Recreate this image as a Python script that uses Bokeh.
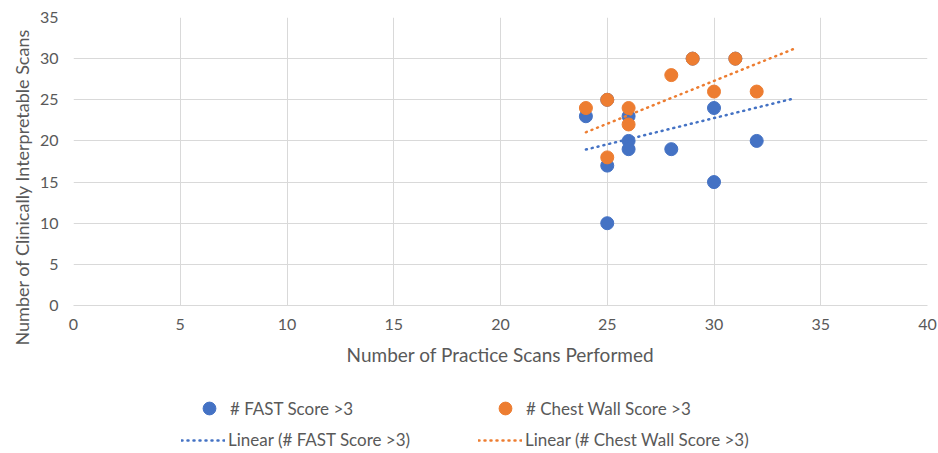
from bokeh.plotting import figure
from bokeh.layouts import column
from bokeh.models import Range1d, FixedTicker, Legend, LegendItem, Title
from bokeh.embed import file_html
from bokeh.resources import INLINE

# Data
fast_x = [24, 25, 25, 25, 26, 26, 26, 28, 29, 30, 30, 31, 32]
fast_y = [23, 17, 10, 25, 23, 20, 19, 19, 30, 24, 15, 30, 20]
chest_x = [24, 25, 25, 26, 26, 28, 29, 30, 31, 32]
chest_y = [24, 25, 18, 24, 22, 28, 30, 26, 30, 26]
trend_x = [24, 33.8]
fast_trend = [18.95, 25.2]
chest_trend = [21.05, 31.25]
ticks = [0, 5, 10, 15, 20, 25, 30, 35, 40]
yticks = [0, 5, 10, 15, 20, 25, 30, 35]
series_labels = ["# FAST Score >3", "# Chest Wall Score >3"]
trend_labels = ["Linear (# FAST Score >3)", "Linear (# Chest Wall Score >3)"]

BLUE = "#4472C4"
ORANGE = "#ED7D31"
TXT = "#595959"
GRID = "#D9D9D9"
FONT = "Lato"

p = figure(width=938, height=392, x_range=Range1d(0, 40), y_range=Range1d(0, 35),
           output_backend="svg", toolbar_location=None,
           min_border_left=73, min_border_right=11, min_border_top=17, min_border_bottom=87)
p.outline_line_color = None

p.xaxis.ticker = FixedTicker(ticks=ticks)
p.yaxis.ticker = FixedTicker(ticks=yticks)
for ax in (p.xaxis, p.yaxis):
    ax.major_tick_line_color = None
    ax.minor_tick_line_color = None
    ax.major_tick_out = 0
    ax.major_tick_in = 0
    ax.minor_tick_out = 0
    ax.major_label_text_font = FONT
    ax.major_label_text_font_size = "16px"
    ax.major_label_text_color = TXT
    ax.axis_label_text_font = FONT
    ax.axis_label_text_font_size = "19px"
    ax.axis_label_text_color = TXT
    ax.axis_label_text_font_style = "normal"
p.xaxis.axis_line_color = GRID
p.yaxis.axis_line_color = None
p.xaxis.axis_label = "Number of Practice Scans Performed"
p.xaxis.major_label_standoff = 13
p.yaxis.major_label_standoff = 15
p.xaxis.axis_label_standoff = 10
p.xgrid.grid_line_color = GRID
p.ygrid.grid_line_color = GRID

# y-axis title, placed lower than centre as in the reference
ytitle = Title(text="Number of Clinically Interpretable Scans", align="left", offset=-40,
               text_font=FONT, text_font_size="18px", text_color=TXT,
               text_font_style="normal", standoff=8)
p.add_layout(ytitle, "left")

p.scatter(fast_x, fast_y, size=13, color=BLUE, line_color=BLUE)
p.scatter(chest_x, chest_y, size=13, color=ORANGE, line_color=ORANGE)
p.line(trend_x, fast_trend, line_color=BLUE, line_width=2.5, line_dash="1 5", line_cap="round")
p.line(trend_x, chest_trend, line_color=ORANGE, line_width=2.5, line_dash="1 5", line_cap="round")

# Legend strip below the chart (its series sit outside the strip's visible range)
lg = figure(width=938, height=61, x_range=Range1d(-100, -99), y_range=Range1d(-100, -99),
            output_backend="svg", toolbar_location=None, x_axis_type=None, y_axis_type=None,
            min_border_left=0, min_border_right=0, min_border_top=0, min_border_bottom=0)
lg.outline_line_color = None
lg.xgrid.visible = False
lg.ygrid.visible = False
d_fast = lg.scatter(fast_x, fast_y, size=13, color=BLUE, line_color=BLUE)
d_chest = lg.scatter(chest_x, chest_y, size=13, color=ORANGE, line_color=ORANGE)
d_fast_t = lg.line(trend_x, fast_trend, line_color=BLUE, line_width=2.5, line_dash="1 5", line_cap="round")
d_chest_t = lg.line(trend_x, chest_trend, line_color=ORANGE, line_width=2.5, line_dash="1 5", line_cap="round")

common = dict(orientation="horizontal", spacing=0, padding=0, margin=0,
              border_line_color=None, background_fill_alpha=0, label_text_font=FONT,
              label_text_font_size="17px", label_text_color=TXT)
leg1 = Legend(items=[LegendItem(label=series_labels[0], renderers=[d_fast]),
                     LegendItem(label=series_labels[1], renderers=[d_chest])],
              location=(120, 29), glyph_width=32, glyph_height=32, label_height=32,
              label_standoff=5, label_width=259, **common)
leg2 = Legend(items=[LegendItem(label=trend_labels[0], renderers=[d_fast_t]),
                     LegendItem(label=trend_labels[1], renderers=[d_chest_t])],
              location=(108, 3), glyph_width=44, glyph_height=20, label_height=20,
              label_standoff=3, label_width=250, **common)
lg.add_layout(leg1, "center")
lg.add_layout(leg2, "center")

layout = column(p, lg, spacing=0)
open("out.html", "w").write(file_html(layout, INLINE))
